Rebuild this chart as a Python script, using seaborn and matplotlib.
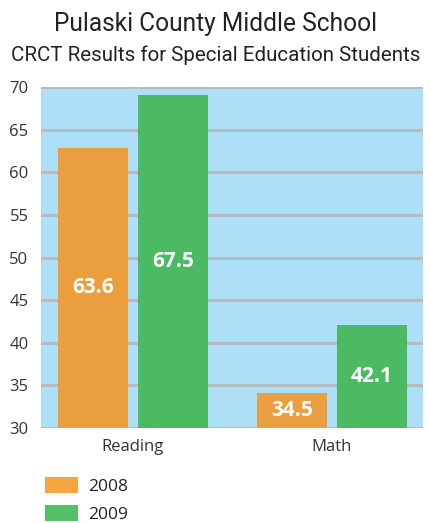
import matplotlib
matplotlib.use("Agg")
import matplotlib.pyplot as plt
import seaborn as sns
import pandas as pd
from matplotlib.patches import Patch

categories = ["Reading", "Math"]
years = ["2008", "2009"]
bar_2008 = [62.85, 34.1]
bar_2009 = [69.05, 42.1]
labels_2008 = ["63.6", "34.5"]
labels_2009 = ["67.5", "42.1"]
yticks = [30, 35, 40, 45, 50, 55, 60, 65, 70]

df = pd.DataFrame({
    "subject": categories * 2,
    "year": [years[0]] * 2 + [years[1]] * 2,
    "value": bar_2008 + bar_2009,
    "label": labels_2008 + labels_2009,
})

sns.set_style("white")
plt.rcParams['font.family'] = ['Open Sans', 'DejaVu Sans']

bar_colors = {"2008": "#EB9E3E", "2009": "#4BBA62"}
leg_colors = {"2008": "#F7A540", "2009": "#55BE68"}

fig = plt.figure(figsize=(4.31, 5.23), dpi=100)
ax = fig.add_axes([41 / 431, 1 - 428 / 523, 382 / 431, 341 / 523])
ax.set_facecolor("#ADE0F7")

sns.barplot(data=df, x="subject", y="value", hue="year", order=categories,
            hue_order=years, palette=bar_colors, width=0.8, gap=0.125,
            saturation=1, ax=ax, legend=False, zorder=3, linewidth=0,
            edgecolor="none")

ax.set_ylim(30, 70)
ax.set_xlim(-0.462, 1.457)
ax.set_yticks(yticks)
ax.set_yticklabels([str(t) for t in yticks])
ax.yaxis.grid(True, color="#B9BABC", linewidth=2.2, zorder=1)
ax.set_axisbelow(True)
for s in ax.spines.values():
    s.set_visible(False)
ax.tick_params(axis="both", length=0, labelsize=12, colors="#333333")
ax.tick_params(axis="y", pad=9)
ax.tick_params(axis="x", pad=8)
ax.set_xlabel("")
ax.set_ylabel("")

for cont, labs in zip(ax.containers, [labels_2008, labels_2009]):
    for rect, lab in zip(cont, labs):
        x = rect.get_x() + rect.get_width() / 2
        y = 30 + (rect.get_height() + rect.get_y() - 30) / 2
        ax.text(x, y, lab, ha="center", va="center", color="white",
                fontsize=15, fontweight="bold", zorder=5)

title_font = ["Roboto", "DejaVu Sans"]
t1 = fig.text(0.5, 1 - 24 / 523, "Pulaski County Middle School", ha="center",
              va="center", fontsize=18, color="#222222", family=title_font)
t2 = fig.text(0.5, 1 - 55 / 523, "CRCT Results for Special Education Students",
              ha="center", va="center", fontsize=16, color="#222222",
              family=title_font)

# fit titles to the widths seen in the reference
renderer = fig.canvas.get_renderer()
for t, target in [(t1, 323), (t2, 410)]:
    w = t.get_window_extent(renderer).width
    t.set_fontsize(t.get_fontsize() * target / w)

handles = [Patch(facecolor=leg_colors[y], edgecolor="none") for y in years]
fig.legend(handles, years, loc="upper left",
           bbox_to_anchor=(45 / 431, 1 - 477 / 523), frameon=False,
           fontsize=12.5, handlelength=1.9, handleheight=1.05,
           labelspacing=0.6, handletextpad=0.6, labelcolor="#222222",
           borderaxespad=0, borderpad=0)

fig.savefig("out.png", dpi=100)
